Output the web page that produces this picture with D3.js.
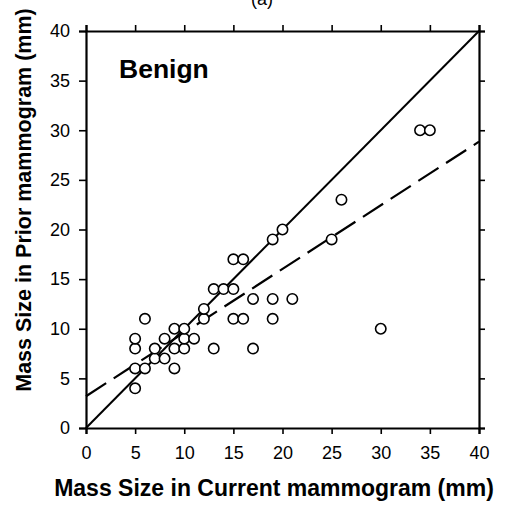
<!DOCTYPE html>
<html>
<head>
<meta charset="utf-8">
<script src="https://cdn.jsdelivr.net/npm/d3@7"></script>
<style>
  body { margin: 0; background: #fff; }
  svg { display: block; font-family: "Liberation Sans", Arial, Helvetica, sans-serif; }
</style>
</head>
<body>
<div id="chart"></div>
<script>
// Mass sizes (mm) for benign cases.
const currentSize = [5, 5, 6, 9, 7, 8, 5, 7, 9, 10, 13, 17, 5, 8, 10, 11, 9, 10, 30, 6,
                     12, 15, 16, 19, 12, 17, 19, 21, 13, 14, 15, 15, 16, 19, 25, 20, 26, 34, 35];
const priorSize   = [4, 6, 6, 6, 7, 7, 8, 8, 8, 8, 8, 8, 9, 9, 9, 9, 10, 10, 10, 11,
                     11, 11, 11, 11, 12, 13, 13, 13, 14, 14, 14, 17, 17, 19, 19, 20, 23, 30, 30];

// Line of identity and fitted regression line (end points in data units).
const identityLine = [[0, 0], [40, 40]];
const fitLine = [[0, 3.2], [40, 28.85]];

const tickValues = [0, 5, 10, 15, 20, 25, 30, 35, 40];

const width = 519;
const height = 508;
const margin = {top: 31, right: 40, bottom: 80, left: 86};

const svg = d3.select('#chart')
  .append('svg')
  .attr('width', width)
  .attr('height', height);

const x = d3.scaleLinear()
  .domain([0, 40])
  .range([margin.left, width - margin.right]);
const y = d3.scaleLinear()
  .domain([0, 40])
  .range([height - margin.bottom, margin.top]);

// Axes on all four sides, ticks pointing outward.
function styleAxis(g) {
  g.select('.domain').attr('stroke-width', 2.2);
  g.selectAll('.tick line').attr('stroke-width', 1.6);
  g.selectAll('.tick text')
    .attr('fill', '#000')
    .style('font-size', '18px');
}

svg.append('g')
  .attr('transform', `translate(0, ${y(0)})`)
  .call(d3.axisBottom(x).tickValues(tickValues).tickSize(6).tickPadding(12))
  .call(styleAxis);

svg.append('g')
  .attr('transform', `translate(0, ${y(40)})`)
  .call(d3.axisTop(x).tickValues(tickValues).tickSize(6).tickFormat(''))
  .call(styleAxis);

svg.append('g')
  .attr('transform', `translate(${x(0)}, 0)`)
  .call(d3.axisLeft(y).tickValues(tickValues).tickSize(7).tickPadding(9))
  .call(styleAxis);

svg.append('g')
  .attr('transform', `translate(${x(40)}, 0)`)
  .call(d3.axisRight(y).tickValues(tickValues).tickSize(6).tickFormat(''))
  .call(styleAxis);

const line = d3.line()
  .x((d) => x(d[0]))
  .y((d) => y(d[1]));

svg.append('path')
  .datum(identityLine)
  .attr('d', line)
  .attr('fill', 'none')
  .attr('stroke', '#000')
  .attr('stroke-width', 2);

svg.append('path')
  .datum(fitLine)
  .attr('d', line)
  .attr('fill', 'none')
  .attr('stroke', '#000')
  .attr('stroke-width', 2.2)
  .attr('stroke-dasharray', '24,9');

// Points.
svg.selectAll('circle.pt')
  .data(currentSize)
  .enter()
  .append('circle')
  .attr('class', 'pt')
  .attr('cx', (d) => x(d))
  .attr('cy', (d, i) => y(priorSize[i]))
  .attr('r', 5.2)
  .attr('fill', '#fff')
  .attr('stroke', '#000')
  .attr('stroke-width', 1.6);

svg.append('text')
  .attr('x', 119)
  .attr('y', 78)
  .style('font-size', '26.5px')
  .style('font-weight', 'bold')
  .text('Benign');

svg.append('text')
  .attr('x', 262)
  .attr('y', 5)
  .attr('text-anchor', 'middle')
  .style('font-size', '18px')
  .text('(a)');

svg.append('text')
  .attr('x', 274)
  .attr('y', 496)
  .attr('text-anchor', 'middle')
  .style('font-size', '23px')
  .style('font-weight', 'bold')
  .text('Mass Size in Current mammogram (mm)');

svg.append('text')
  .attr('transform', 'rotate(-90)')
  .attr('x', -200)
  .attr('y', 31)
  .attr('text-anchor', 'middle')
  .style('font-size', '21.5px')
  .style('font-weight', 'bold')
  .text('Mass Size in Prior mammogram (mm)');
</script>
</body>
</html>
